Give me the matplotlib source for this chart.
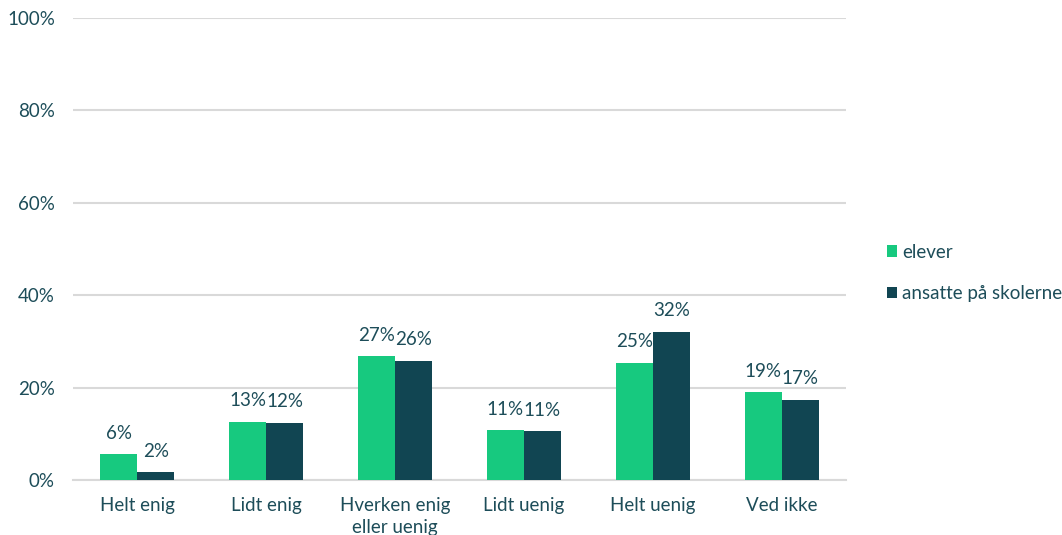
import matplotlib.pyplot as plt
import numpy as np

plt.rcParams['font.family'] = ['Lato', 'DejaVu Sans']

kategorier = ['Helt enig', 'Lidt enig', 'Hverken enig\neller uenig', 'Lidt uenig', 'Helt uenig', 'Ved ikke']
elever = [5.6, 12.6, 26.8, 10.8, 25.4, 19.0]
ansatte = [1.7, 12.4, 25.8, 10.6, 32.1, 17.4]
serier = ['elever', 'ansatte på skolerne']

groen = '#17C97F'
moerk = '#114552'
tekst = '#1D4D59'

fig = plt.figure(figsize=(10.62, 5.35), dpi=100)
ax = fig.add_axes([0.0687, 0.1028, 0.7279, 0.8636])

x = np.arange(len(kategorier))
b = 0.287
s1 = ax.bar(x - b / 2, elever, b, color=groen, label=serier[0], zorder=3)
s2 = ax.bar(x + b / 2, ansatte, b, color=moerk, label=serier[1], zorder=3)

for bars in (s1, s2):
    for r in bars:
        h = r.get_height()
        ax.annotate(f'{h:.0f}%', (r.get_x() + r.get_width() / 2, h),
                    xytext=(0, 9), textcoords='offset points',
                    ha='center', va='bottom', fontsize=13.5, color=tekst)

ax.set_xlim(-0.5, len(kategorier) - 0.5)
ax.set_ylim(0, 100)
ax.set_yticks(range(0, 101, 20))
ax.set_yticklabels([f'{v}%' for v in range(0, 101, 20)])
ax.set_xticks(x)
ax.set_xticklabels(kategorier, linespacing=1.35)
ax.tick_params(axis='y', length=0, pad=13, labelsize=13.5, labelcolor=tekst)
ax.tick_params(axis='x', length=0, pad=12, labelsize=13.5, labelcolor=tekst)
ax.grid(axis='y', color='#D9D9D9', linewidth=1.5, zorder=0)
for side in ('top', 'right', 'left'):
    ax.spines[side].set_visible(False)
ax.spines['bottom'].set_color('#D9D9D9')
ax.spines['bottom'].set_linewidth(1.5)

leg = fig.legend(handles=[s1, s2], loc='center left', bbox_to_anchor=(0.835, 0.49),
                 frameon=False, fontsize=13.5, handlelength=0.55, handleheight=0.55,
                 handletextpad=0.25, labelspacing=1.3, borderpad=0, borderaxespad=0,
                 labelcolor=tekst)

fig.savefig('out.png', dpi=100)
